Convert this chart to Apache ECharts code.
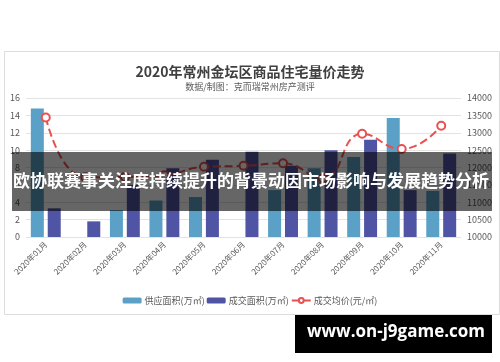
<!DOCTYPE html>
<html><head><meta charset="utf-8">
<script src="https://cdn.jsdelivr.net/npm/echarts@6/dist/echarts.min.js"></script>
<style>html,body{margin:0;padding:0;background:#fff}#c{width:500px;height:362px}</style>
</head><body><div id="c"></div>
<script>
const categories = ['2020年01月','2020年02月','2020年03月','2020年04月','2020年05月','2020年06月','2020年07月','2020年08月','2020年09月','2020年10月','2020年11月'];
const supplyArea = [14.8, 0, 3.1, 4.2, 4.6, 0, 5.4, 7.9, 9.2, 13.7, 5.3];
const dealArea = [3.3, 1.8, 6.0, 7.9, 8.9, 9.8, 8.2, 10.0, 11.2, 5.4, 9.6];
const avgPrice = [13440, 11720, 11730, 11780, 12020, 12050, 12120, 11690, 12970, 12530, 13200];
const leftTicks = {min: 0, max: 16, interval: 2};
const rightTicks = {min: 10000, max: 14000, interval: 500};
const seriesNames = ['供应面积(万㎡)', '成交面积(万㎡)', '成交均价(元/㎡)'];

const chart = echarts.init(document.getElementById('c'), null, {renderer: 'canvas'});
const lab = {color: '#595959', fontSize: 9, fontFamily: 'Noto Sans CJK SC'};
chart.setOption({
  animation: false,
  title: {
    text: '2020年常州金坛区商品住宅量价走势',
    subtext: '数据/制图：克而瑞常州房产测评',
    left: 'center', top: 60, itemGap: 3,
    textStyle: {fontSize: 14, fontWeight: 'bold', color: '#404040', fontFamily: 'Noto Sans CJK SC'},
    subtextStyle: {fontSize: 9, color: '#595959', fontFamily: 'Noto Sans CJK SC'}
  },
  grid: {left: 26, right: 39, top: 98, bottom: 125},
  legend: {
    top: 291, left: 'center', itemWidth: 19, itemHeight: 6, itemGap: 2,
    textStyle: {fontSize: 9, color: '#595959', fontFamily: 'Noto Sans CJK SC', padding: [0, 0, 0, -2]},
    data: seriesNames
  },
  xAxis: {
    type: 'category', data: categories,
    axisLine: {show: false}, axisTick: {show: false},
    axisLabel: {rotate: 45, interval: 0, fontSize: 8, color: '#595959', margin: 6, fontFamily: 'Noto Sans CJK SC'}
  },
  yAxis: [
    {type: 'value', min: leftTicks.min, max: leftTicks.max, interval: leftTicks.interval,
     axisLabel: Object.assign({margin: 6}, lab), axisLine: {show: false}, axisTick: {show: false},
     splitLine: {lineStyle: {color: '#e3e3e3'}}},
    {type: 'value', min: rightTicks.min, max: rightTicks.max, interval: rightTicks.interval,
     axisLabel: Object.assign({margin: 6, formatter: v => String(v)}, lab), axisLine: {show: false}, axisTick: {show: false},
     splitLine: {show: false}}
  ],
  series: [
    {name: seriesNames[0], type: 'bar', data: supplyArea, barWidth: 13, barGap: '30%',
     itemStyle: {color: '#5BA0C6'}},
    {name: seriesNames[1], type: 'bar', data: dealArea, barWidth: 13,
     itemStyle: {color: '#5054A4'}},
    {name: seriesNames[2], type: 'line', yAxisIndex: 1, data: avgPrice, smooth: true,
     symbol: 'circle', symbolSize: 8,
     lineStyle: {color: '#E8514F', width: 2, type: 'dashed'},
     itemStyle: {color: '#fff', borderColor: '#E8514F', borderWidth: 2}, z: 5}
  ],
  graphic: [
    {type: 'rect', left: 2, top: 49, shape: {width: 495, height: 263}, z: -1,
     style: {fill: 'none', stroke: '#dcdcdc', lineWidth: 1}},
    {type: 'rect', left: 12, top: 152, shape: {width: 480, height: 59}, z: 100,
     style: {fill: 'rgba(0,0,0,0.6)'}},
    {type: 'text', left: 13, top: 172, z: 101,
     style: {text: '欧协联赛事关注度持续提升的背景动因市场影响与发展趋势分析', fill: '#fff',
             font: 'bold 17px "Noto Sans CJK SC"'}},
    {type: 'rect', left: 295, top: 315, shape: {width: 197, height: 38}, z: 100,
     style: {fill: '#000'}},
    {type: 'text', left: 307, top: 324, z: 101,
     style: {text: 'www.on-j9game.com', fill: '#fff', font: 'bold 17px "Open Sans"'}}
  ]
});
</script></body></html>
